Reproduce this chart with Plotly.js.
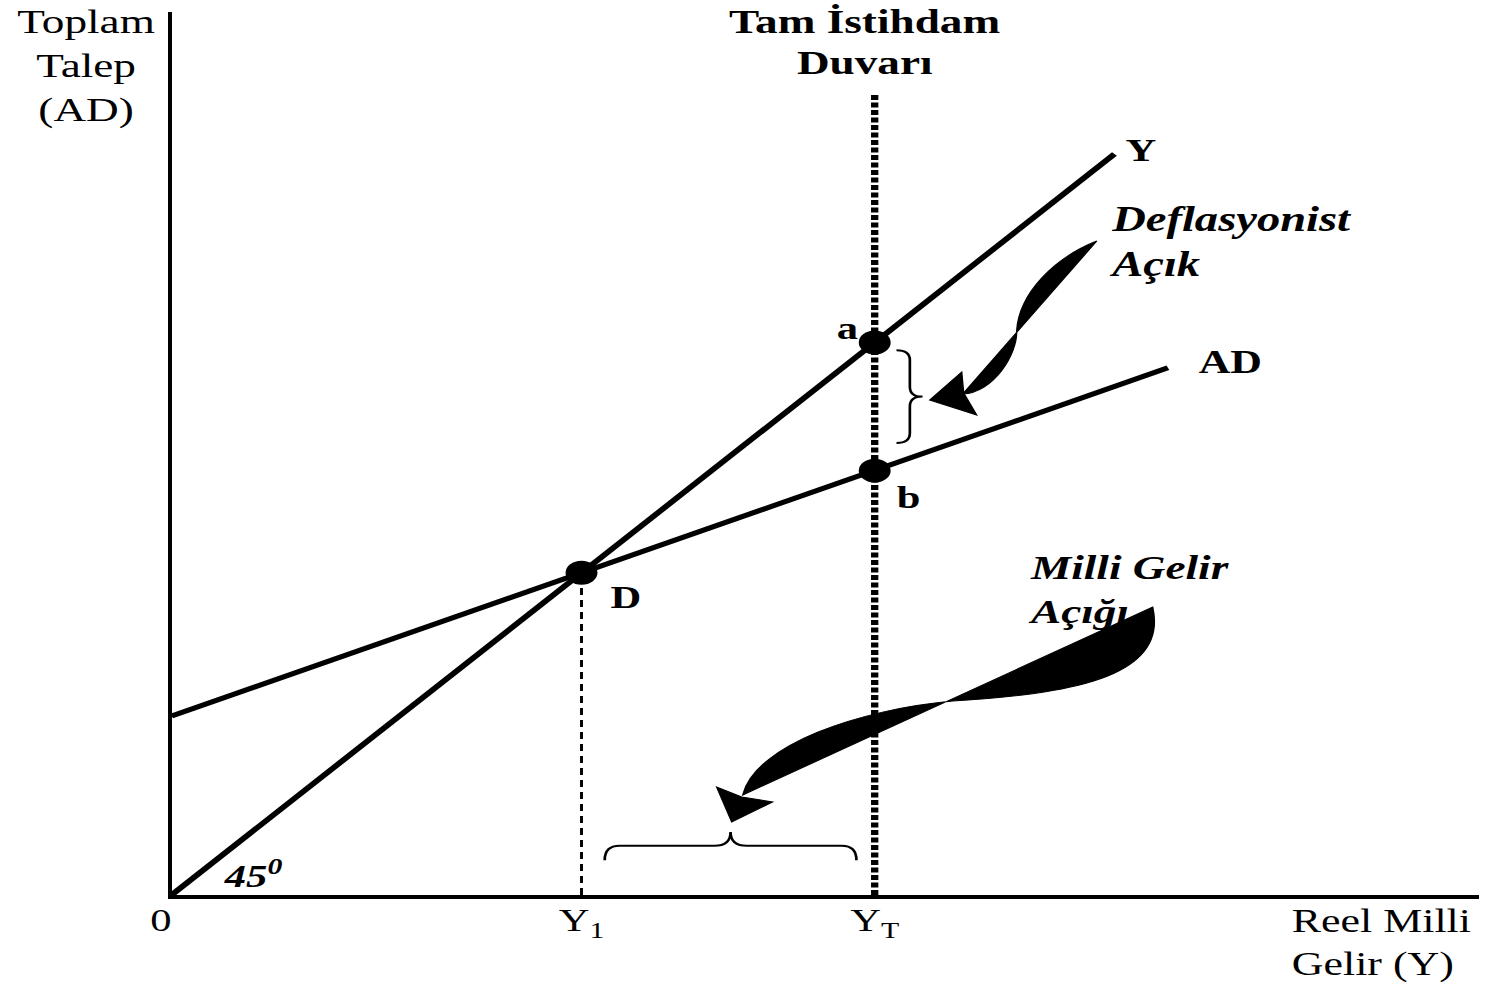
<!DOCTYPE html>
<html>
<head>
<meta charset="utf-8">
<script src="https://cdn.plot.ly/plotly-3.0.1.min.js"></script>
<style>
  html, body { margin: 0; padding: 0; background: #fff; overflow: hidden; }
  #plot { width: 1120px; height: 987px; transform-origin: 0 0; }
</style>
</head>
<body>
<div id="plot"></div>
<script>
// ---------------- data ----------------
// 45-degree line Y = AD
const line45X = [0, 134.1];
const line45Y = [0, 134.1];
// aggregate demand line AD
const adX = [0, 141.7];
const adY = [32.4, 95.4];
// labelled points a, b, D
const pointNames = ['a', 'b', 'D'];
const pointX = [100, 100, 58.3];
const pointY = [100, 76.8, 58.3];
// full-employment wall (Y_T)
const wallX = [100, 100];
const wallY = [0, 144.8];
// equilibrium income Y_1
const y1X = [58.3, 58.3];
const y1Y = [0, 58.3];
// x-axis tick labels
const tickVals = [0, 58.3, 100];
const tickText = ['0&nbsp;&nbsp;', 'Y<sub>1</sub>', 'Y<sub>T</sub>'];

// ---------------- page geometry ----------------
const PAGE_W = 1490, DIV_W = 1120, DIV_H = 987;
const STRETCH = PAGE_W / DIV_W;
document.getElementById('plot').style.transform = 'scaleX(' + STRETCH + ')';
const X_MAX = 186, Y_MAX = 159.8;

const FONT = '"Liberation Serif", "Times New Roman", Times, serif';
const K = 'black';

const traces = [
  { x: line45X, y: line45Y, mode: 'lines', line: { color: K, width: 5 } },
  { x: adX, y: adY, mode: 'lines', line: { color: K, width: 5 } },
  { x: wallX, y: wallY, mode: 'lines', line: { color: K, width: 5.5, dash: '5px,2.5px' } },
  { x: y1X, y: y1Y, mode: 'lines', line: { color: K, width: 2.2, dash: '7px,5px' } },
  { x: pointX, y: pointY, mode: 'markers', marker: { color: K, size: 24, symbol: 'circle' } }
];

// ---------------- decorations (braces and swoosh arrows) ----------------
const YT = pointX[0], Y1 = pointX[2];
function braceV(x0, xs, xt, yT, yB, c) {
  const ym = (yT + yB) / 2;
  return `M ${x0},${yT} Q ${xs},${yT} ${xs},${yT - c} L ${xs},${ym + c} Q ${xs},${ym} ${xt},${ym} ` +
         `Q ${xs},${ym} ${xs},${ym - c} L ${xs},${yB + c} Q ${xs},${yB} ${x0},${yB}`;
}
function braceH(xL, xR, yEnd, ys, yt, c, cm) {
  const xm = (xL + xR) / 2;
  return `M ${xL},${yEnd} Q ${xL},${ys} ${xL + c},${ys} L ${xm - cm},${ys} Q ${xm},${ys} ${xm},${yt} ` +
         `Q ${xm},${ys} ${xm + cm},${ys} L ${xR - c},${ys} Q ${xR},${ys} ${xR},${yEnd}`;
}
function pt(p) { return p[0] + ',' + p[1]; }
function swoosh(H, W, T, s1a, s1b, s2a, s2b) {
  return `M ${pt(H)} L ${pt(T)} C ${pt(s2b)} ${pt(s2a)} ${pt(W)} C ${pt(s1b)} ${pt(s1a)} ${pt(H)} Z`;
}
function head(b1, tip, b2, notch) {
  return `M ${pt(b1)} L ${pt(tip)} L ${pt(b2)} L ${pt(notch)} Z`;
}

const shapes = [
  { type: 'path', xref: 'x', yref: 'y', line: { color: K, width: 2 },
    path: braceV(YT + 3.1, YT + 5.0, YT + 6.8, pointY[0] - 1.4, pointY[1] + 5.0, 1.8) },
  { type: 'path', xref: 'x', yref: 'y', line: { color: K, width: 2 },
    path: braceH(Y1 + 3.3, YT - 2.6, 6.3, 8.9, 11.4, 2.1, 2.3) },
  // deflationary gap arrow
  { type: 'path', xref: 'x', yref: 'y', fillcolor: K, line: { color: K, width: 1 },
    path: swoosh([112.52, 90.66], [120.20, 102.24], [131.58, 118.35],
                 [116.79, 90.84], [120.34, 97.72], [120.6, 108.9], [125.4, 115.2]) },
  { type: 'path', xref: 'x', yref: 'y', fillcolor: K, line: { color: K, width: 1 },
    path: head([112.38, 94.64], [107.82, 89.58], [114.51, 86.86], [112.66, 90.84]) },
  // income gap arrow
  { type: 'path', xref: 'x', yref: 'y', fillcolor: K, line: { color: K, width: 1 },
    path: swoosh([81.22, 18.10], [111.10, 35.11], [139.54, 52.12],
                 [83.0, 27.2], [97.9, 33.6], [126.74, 36.37], [141.96, 38.91]) },
  { type: 'path', xref: 'x', yref: 'y', fillcolor: K, line: { color: K, width: 1 },
    path: head([77.52, 19.54], [79.66, 13.21], [85.49, 16.83], [81.08, 17.73]) }
];

function ann(text, x, y, opts) {
  const o = Object.assign({}, opts || {});
  const f = Object.assign({ family: FONT, size: 32, color: K }, o.font || {});
  delete o.font;
  return Object.assign({ text: text, x: x, y: y, xref: 'x', yref: 'y', showarrow: false,
                         xanchor: 'center', yanchor: 'middle', font: f }, o);
}
// annotation placed by data units but outside the axis ranges (uses paper fractions)
function annOut(text, x, y, opts) {
  const a = ann(text, x / X_MAX, y / Y_MAX, opts);
  a.xref = 'paper'; a.yref = 'paper';
  return a;
}

const annotations = [
  annOut('Toplam<br>Talep<br>(AD)', -12.2, 150, { font: { size: 34 }, align: 'center' }),
  ann('Tam İstihdam', YT, 158.0, { xshift: -7, font: { size: 34, weight: 'bold' } }),
  ann('Duvarı', YT, 150.6, { xshift: -7, font: { size: 34, weight: 'bold' } }),
  ann(pointNames[0], pointX[0], pointY[0], { xshift: -20, yshift: 14, font: { size: 32, weight: 'bold' } }),
  ann(pointNames[1], pointX[1], pointY[1], { xshift: 26, yshift: -26, font: { size: 32, weight: 'bold' } }),
  ann(pointNames[2], pointX[2], pointY[2], { xshift: 33, yshift: -24, font: { size: 32, weight: 'bold' } }),
  ann('Y', line45X[1], line45Y[1], { xshift: 20, yshift: 4, font: { size: 32, weight: 'bold' } }),
  ann('AD', adX[1], adY[1], { xshift: 47, yshift: 6, font: { size: 33, weight: 'bold' } }),
  ann('45<sup>0</sup>', 11.6, 3.8, { font: { size: 32, weight: 'bold', style: 'italic' } }),
  ann('Deflasyonist<br>Açık', 133.1, 118, { xanchor: 'left', align: 'left', font: { size: 35, weight: 'bold', style: 'italic' } }),
  ann('Milli Gelir<br>Açığı', 121.4, 55.2, { xanchor: 'left', align: 'left', font: { size: 34, weight: 'bold', style: 'italic' } }),
  annOut('Reel Milli<br>Gelir (Y)', 159.0, -8.7, { xanchor: 'left', align: 'left', font: { size: 33 } })
];

const layout = {
  width: DIV_W, height: DIV_H,
  margin: { l: 129, r: 8, t: 12, b: 92 },
  paper_bgcolor: 'white', plot_bgcolor: 'white',
  showlegend: false, hovermode: false,
  font: { family: FONT, color: K },
  xaxis: { range: [0, X_MAX], showgrid: false, zeroline: false, showline: true, linecolor: K, linewidth: 3.5,
           ticks: '', tickvals: tickVals, ticktext: tickText, tickfont: { family: FONT, size: 32, color: K },
           ticklabelstandoff: -6, fixedrange: true },
  yaxis: { range: [0, Y_MAX], showgrid: false, zeroline: false, showline: true, linecolor: K, linewidth: 3,
           ticks: '', showticklabels: false, fixedrange: true },
  shapes: shapes,
  annotations: annotations
};

Plotly.newPlot('plot', traces, layout, { staticPlot: true, displayModeBar: false }).then(function (gd) {
  // drop empty placeholder <text> nodes that Plotly leaves behind
  gd.querySelectorAll('text').forEach(function (t) {
    if (!t.textContent || !t.textContent.trim()) t.parentNode.removeChild(t);
  });
});
</script>
</body>
</html>
